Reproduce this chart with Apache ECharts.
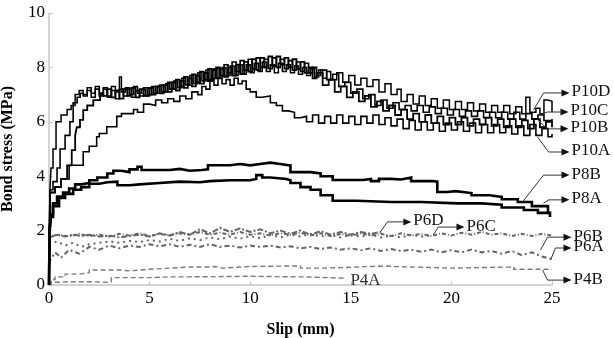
<!DOCTYPE html>
<html>
<head>
<meta charset="utf-8">
<script src="https://cdn.jsdelivr.net/npm/echarts@6/dist/echarts.min.js"></script>
<style>
html,body{margin:0;padding:0;background:#fff;}
#chart{width:614px;height:338px;}
</style>
</head>
<body>
<div id="chart"></div>
<script>
// ---- Data (slip mm, bond stress MPa) ----
const xTicks = [0, 5, 10, 15, 20, 25];
const yTicks = [0, 2, 4, 6, 8, 10];

const P10D = [[0,0],[0.04,3.4],[0.1,4.3],[0.2,5.0],[0.35,6.0],[0.6,6.25],[0.9,6.45],[1.1,6.6],[1.3,7.0],[1.5,7.15],
[1.7,7.0],[1.9,7.25],[2.1,7.05],[2.3,7.3],[2.5,7.0],[2.7,7.2],[2.9,6.95],[3.1,7.3],[3.3,7.1],[3.5,7.65],[3.6,7.1],[3.8,7.25],[4.0,7.0],[4.2,7.3],[4.4,7.05],[4.6,7.2],[4.8,6.95],[5.0,7.25],[5.2,7.05],[5.4,7.3],[5.6,7.1],[5.8,7.4],[6.0,7.2],[6.2,7.5],[6.4,7.25],[6.6,7.6],[6.8,7.35],[7.0,7.7],[7.2,7.4],[7.4,7.8],[7.6,7.5],[7.8,7.9],[8.0,7.55],[8.2,7.95],[8.4,7.6],[8.6,8.0],[8.8,7.7],[9.0,8.05],[9.2,7.7],[9.4,8.1],[9.6,7.75],[9.8,8.1],[10,7.8],[10.2,8.15],[10.4,7.85],[10.6,8.2],[10.8,7.85],[11,8.1],[11.2,7.8],[11.4,8.15],[11.6,7.85],[11.8,8.1],[12,7.8],[12.2,8.05],[12.4,7.75],[12.6,8.0],[12.8,7.7],[13,7.95],[13.2,7.65],[13.4,7.9],[13.6,7.6],[13.8,7.85],[14,7.55],[14.3,7.8],[14.6,7.45],[14.9,7.7],[15.2,7.35],[15.5,7.6],[15.8,7.3],[16.1,7.55],[16.4,7.1],[16.7,7.4],[17.0,7.0],[17.3,7.2],[17.5,6.75],[17.8,7.0],[18.1,6.65],[18.4,6.95],[18.7,6.6],[19.0,6.85],[19.3,6.5],[19.6,6.8],[19.9,6.45],[20.2,6.75],[20.5,6.45],[20.8,6.7],[21.1,6.4],[21.4,6.65],[21.7,6.35],[22.0,6.6],[22.3,6.35],[22.6,6.6],[22.9,6.3],[23.2,6.55],[23.5,6.3],[23.7,6.9],[23.9,6.35],[24.2,6.5],[24.4,6.3],[24.6,6.8],[24.8,6.75],[25,6.35]];

const P10C = [[0,0],[0.05,3.5],[0.2,3.8],[0.4,4.3],[0.55,5.0],[0.8,5.5],[1.04,6.0],[1.2,6.7],[1.4,6.9],[1.55,7.05],[1.7,6.95],[1.9,7.15],[2.1,6.9],[2.3,7.2],[2.5,6.95],[2.7,7.25],[2.9,6.9],[3.1,7.15],[3.3,6.85],[3.5,7.2],[3.7,6.95],[3.9,7.2],[4.1,6.9],[4.3,7.15],[4.5,6.95],[4.7,7.25],[4.9,7.0],[5.1,7.3],[5.3,7.05],[5.5,7.35],[5.7,7.1],[5.9,7.45],[6.1,7.2],[6.3,7.55],[6.5,7.3],[6.7,7.65],[6.9,7.35],[7.1,7.75],[7.3,7.45],[7.5,7.85],[7.7,7.55],[7.9,7.95],[8.1,7.6],[8.3,8.0],[8.5,7.7],[8.7,8.1],[8.9,7.8],[9.1,8.2],[9.3,7.85],[9.5,8.25],[9.7,7.9],[9.9,8.3],[10.1,7.95],[10.3,8.35],[10.5,8.0],[10.7,8.3],[10.9,7.95],[11.1,8.35],[11.3,8.0],[11.5,8.3],[11.7,7.95],[11.9,8.25],[12.1,7.9],[12.3,8.2],[12.5,7.85],[12.7,8.15],[12.9,7.8],[13.1,8.0],[13.3,7.7],[13.5,7.9],[13.8,7.55],[14.1,7.75],[14.4,7.3],[14.7,7.45],[15.0,7.05],[15.3,7.2],[15.6,6.85],[15.9,7.0],[16.2,6.6],[16.5,6.8],[16.8,6.5],[17.1,6.7],[17.4,6.45],[17.7,6.6],[18.0,6.4],[18.3,6.6],[18.6,6.35],[18.9,6.55],[19.2,6.3],[19.5,6.5],[19.8,6.25],[20.1,6.45],[20.4,6.2],[20.7,6.4],[21.0,6.2],[21.3,6.4],[21.6,6.15],[21.9,6.35],[22.2,6.15],[22.5,6.35],[22.8,6.1],[23.1,6.35],[23.4,6.1],[23.7,6.3],[24.0,6.1],[24.3,6.25],[24.6,6.05],[25,6.1]];

const P10B = [[0,0],[0.05,3.4],[0.3,3.6],[0.6,3.9],[0.9,4.4],[1.13,4.96],[1.3,5.5],[1.38,5.8],[1.54,6.07],[1.7,6.43],[1.9,6.6],[2.2,6.8],[2.54,7.05],[2.7,6.95],[2.9,7.2],[3.1,6.9],[3.3,7.15],[3.5,6.85],[3.7,7.2],[3.9,6.95],[4.1,7.25],[4.3,6.9],[4.5,7.2],[4.7,6.95],[4.9,7.25],[5.1,7.0],[5.3,7.3],[5.5,7.05],[5.7,7.35],[5.9,7.1],[6.1,7.45],[6.3,7.15],[6.5,7.5],[6.7,7.25],[6.9,7.6],[7.1,7.3],[7.3,7.7],[7.5,7.4],[7.7,7.8],[7.9,7.5],[8.1,7.9],[8.3,7.6],[8.5,7.95],[8.7,7.65],[8.9,8.0],[9.1,7.7],[9.3,8.1],[9.5,7.75],[9.7,8.2],[9.9,7.85],[10.1,8.3],[10.3,7.9],[10.5,8.35],[10.7,8.0],[10.9,8.4],[11.1,8.05],[11.3,8.4],[11.5,8.1],[11.7,8.35],[11.9,8.0],[12.1,8.3],[12.3,7.95],[12.5,8.2],[12.7,7.8],[12.9,8.0],[13.1,7.6],[13.3,7.8],[13.6,7.35],[13.9,7.55],[14.2,7.1],[14.5,7.3],[14.8,6.9],[15.1,7.1],[15.4,6.75],[15.7,6.95],[16.0,6.55],[16.3,6.75],[16.6,6.4],[16.9,6.6],[17.2,6.25],[17.5,6.45],[17.8,6.1],[18.1,6.3],[18.4,6.0],[18.7,6.25],[19.0,5.95],[19.3,6.2],[19.6,5.9],[19.9,6.15],[20.2,5.9],[20.5,6.15],[20.8,5.85],[21.1,6.1],[21.4,5.9],[21.7,6.15],[22.0,5.85],[22.3,6.1],[22.6,5.8],[22.9,6.1],[23.2,5.8],[23.5,6.05],[23.8,5.75],[24.1,6.1],[24.4,5.8],[24.7,6.0],[25,5.8]];

const P10A = [[0,0],[0.05,3.4],[0.3,3.6],[0.6,3.9],[1.0,4.4],[1.7,4.9],[2.0,5.1],[2.37,5.45],[2.5,5.57],[2.87,5.82],[3.37,6.2],[3.6,6.3],[4.2,6.45],[4.4,6.35],[4.7,6.65],[5.0,6.6],[5.3,6.8],[5.6,6.7],[5.9,6.85],[6.2,6.75],[6.5,6.95],[6.8,6.85],[7.1,7.1],[7.4,7.0],[7.6,7.3],[7.8,7.2],[8.0,7.55],[8.2,7.35],[8.4,7.6],[8.6,7.4],[8.8,7.55],[9.0,7.35],[9.2,7.6],[9.4,7.4],[9.6,7.5],[9.8,7.2],[10.0,7.1],[10.3,6.9],[10.6,6.95],[11.0,6.7],[11.3,6.6],[11.6,6.4],[11.9,6.35],[12.2,6.15],[12.5,6.2],[12.8,6.0],[13.1,6.25],[13.4,5.95],[13.7,6.2],[14.0,5.95],[14.3,6.25],[14.6,5.95],[14.9,6.2],[15.2,5.9],[15.5,6.2],[15.8,5.95],[16.1,6.25],[16.4,5.9],[16.7,6.15],[17.0,5.85],[17.3,6.1],[17.6,5.75],[17.9,6.05],[18.2,5.7],[18.5,6.0],[18.8,5.7],[19.1,5.95],[19.4,5.65],[19.7,5.95],[20.0,5.7],[20.3,6.0],[20.6,5.65],[20.9,5.95],[21.2,5.6],[21.5,5.9],[21.8,5.6],[22.1,5.9],[22.4,5.6],[22.7,5.85],[23.0,5.55],[23.3,5.85],[23.6,5.5],[23.9,5.9],[24.2,5.5],[24.5,5.75],[24.8,5.45],[25,5.55]];

const P8B = [[0,0],[0.03,2.0],[0.1,2.6],[0.2,3.0],[0.4,3.25],[0.7,3.4],[1.0,3.55],[1.3,3.7],[1.6,3.75],[2.0,3.85],[2.4,3.95],[2.9,4.1],[3.2,4.2],[3.6,4.15],[4.0,4.25],[4.4,4.35],[4.6,4.23],[5.5,4.23],[6.0,4.27],[6.5,4.2],[7.0,4.23],[7.6,4.25],[7.9,4.4],[8.5,4.4],[9.0,4.45],[9.5,4.4],[10.0,4.45],[10.5,4.5],[11.0,4.45],[11.5,4.4],[11.9,4.4],[12.0,4.15],[12.5,4.15],[13.0,4.1],[13.5,4.0],[14.1,3.86],[15.0,3.86],[15.6,3.9],[16.0,3.82],[16.4,3.9],[17.0,3.88],[17.5,3.95],[18.0,3.82],[19.1,3.8],[19.3,3.42],[19.8,3.45],[20.2,3.38],[21.0,3.3],[21.9,3.24],[22.5,3.15],[23.3,3.05],[24.0,2.9],[24.8,2.65]];

const P8A = [[0,0],[0.03,2.0],[0.1,2.5],[0.2,2.9],[0.5,3.2],[0.8,3.35],[1.2,3.5],[1.6,3.6],[2.0,3.72],[2.5,3.78],[2.9,3.8],[3.4,3.67],[4.0,3.7],[4.5,3.75],[5.5,3.8],[6.5,3.78],[7.5,3.82],[8.0,3.85],[9.0,3.85],[10.0,3.9],[10.3,4.04],[10.6,3.95],[11.0,3.9],[11.8,3.85],[12.0,3.75],[12.5,3.6],[13.0,3.5],[13.5,3.3],[14.1,3.1],[15.3,3.05],[17.0,3.05],[18.5,3.0],[20.3,3.0],[21.5,2.95],[22.5,2.85],[23.6,2.76],[24.3,2.65],[24.9,2.5]];

const P6D = [[0,0.9],[0.05,1.75],[0.4,1.85],[0.8,1.78],[1.2,1.85],[1.6,1.8],[2.0,1.85],[2.5,1.78],[3.0,1.82],[3.5,1.75],[4.0,1.8],[4.5,1.85],[5.0,1.78],[5.5,1.9],[6.0,1.82],[6.5,1.95],[7.0,1.85],[7.5,2.05],[8.0,1.9],[8.5,2.1],[9.0,1.95],[9.5,2.08],[10.0,1.95],[10.5,2.05],[11.0,1.9],[11.5,2.0],[12.0,1.88],[12.5,2.0],[13.0,1.85],[13.5,1.98],[14.0,1.85],[14.5,1.95],[15.0,1.85],[15.5,1.95],[16.0,1.88],[16.5,1.95]];

const P6C = [[0,0.8],[0.05,1.5],[0.4,1.6],[0.8,1.45],[1.2,1.55],[1.6,1.4],[2.0,1.5],[2.5,1.55],[3.0,1.6],[3.5,1.55],[4.0,1.62],[4.5,1.58],[5.0,1.65],[5.5,1.6],[6.0,1.7],[6.5,1.62],[7.0,1.72],[7.5,1.65],[8.0,1.75],[8.5,1.68],[9.0,1.78],[9.5,1.7],[10.0,1.8],[10.5,1.72],[11.0,1.85],[11.5,1.75],[12.0,1.85],[12.5,1.78],[13.0,1.88],[13.5,1.78],[14.0,1.85],[14.5,1.75],[15.0,1.85],[15.5,1.78],[16.0,1.85],[16.5,1.75],[17.0,1.82],[17.5,1.75],[18.0,1.85],[18.5,1.78],[19.1,1.84]];

const P6B = [[0,1.0],[0.05,1.8],[0.5,1.85],[1.0,1.78],[1.5,1.88],[2.0,1.8],[2.5,1.85],[3.0,1.78],[3.5,1.88],[4.0,1.82],[4.5,1.9],[5.0,1.8],[5.5,1.88],[6.0,1.82],[6.5,1.9],[7.0,1.85],[7.5,1.95],[8.0,1.85],[8.5,1.92],[9.0,1.85],[9.5,1.95],[10.0,1.85],[10.5,1.9],[11.0,1.82],[11.5,1.9],[12.0,1.85],[12.5,1.92],[13.0,1.82],[13.5,1.9],[14.0,1.8],[14.5,1.88],[15.0,1.8],[15.5,1.9],[16.0,1.82],[16.5,1.88],[17.0,1.8],[17.5,1.9],[18.0,1.82],[18.5,1.88],[19.0,1.8],[19.5,1.9],[20.0,1.82],[20.5,1.92],[21.0,1.85],[21.5,1.95],[22.0,1.85],[22.5,1.9],[23.0,1.8],[23.5,1.88],[24.0,1.8],[24.5,1.88],[25.0,1.82]];

const P6A = [[0,0.6],[0.05,0.9],[0.3,1.2],[0.6,1.0],[1.0,1.3],[1.5,1.15],[2.0,1.4],[2.5,1.3],[3.0,1.45],[3.5,1.35],[4.0,1.45],[4.5,1.4],[5.0,1.5],[5.5,1.42],[6.0,1.5],[6.5,1.4],[7.0,1.48],[7.5,1.4],[8.0,1.5],[8.5,1.4],[9.0,1.45],[9.5,1.38],[10.0,1.45],[10.5,1.4],[11.0,1.45],[11.5,1.38],[12.0,1.42],[12.5,1.35],[13.0,1.4],[13.5,1.32],[14.0,1.38],[14.5,1.3],[15.0,1.35],[15.5,1.28],[16.0,1.35],[16.5,1.25],[17.0,1.32],[17.5,1.25],[18.0,1.3],[18.5,1.22],[19.0,1.3],[19.5,1.2],[20.0,1.28],[20.5,1.2],[21.0,1.3],[21.5,1.2],[22.0,1.25],[22.5,1.15],[23.0,1.25],[23.5,1.1],[24.0,1.2],[24.5,1.05],[25.0,0.95]];

const P4B = [[0,0.05],[0.1,0.2],[0.3,0.3],[0.8,0.4],[1.5,0.45],[2.0,0.55],[3.0,0.55],[3.5,0.52],[4.0,0.58],[5.0,0.62],[6.0,0.66],[7.0,0.66],[8.0,0.68],[8.3,0.62],[8.6,0.68],[10.0,0.7],[12.1,0.7],[12.5,0.62],[13.5,0.64],[14.6,0.7],[16.7,0.68],[17.2,0.62],[20.0,0.66],[22.9,0.67],[23.1,0.58],[25,0.58]];

const P4A = [[0,0.02],[0.1,0.1],[0.5,0.12],[1.0,0.12],[2.0,0.1],[2.9,0.12],[3.1,0.27],[5.0,0.3],[6.0,0.3],[7.0,0.32],[10.0,0.3],[12.3,0.3],[12.6,0.25],[14.7,0.25]];

// label annotations: [text, curve point, elbow, arrow end] in data units; text-only when no points
const labelNames = ['P10D','P10C','P10B','P10A','P8B','P8A','P6D','P6C','P6B','P6A','P4B','P4A'];
const labelFrom  = [[24.08,6.43],[24.33,6.25],[24.28,6.07],[24.28,5.44],[23.53,3.05],[24.58,3.01],[16.47,1.95],[19.1,1.84],[24.43,1.29],[24.93,0.92],[24.53,0.55],null];
const labelElbow = [[24.58,7.06],[24.78,6.36],[24.78,5.74],[24.83,4.89],[24.58,4.04],[24.83,3.13],[16.82,2.32],[19.35,2.13],[24.78,1.76],[25.17,1.36],[24.78,0.18],null];
const labelTo    = [[25.82,7.06],[25.77,6.36],[25.77,5.74],[25.82,4.89],[25.82,4.04],[25.82,3.13],[17.96,2.32],[20.6,2.13],[25.92,1.76],[25.92,1.36],[25.92,0.18],[14.98,0.18]];

const serif = 'Liberation Serif, Times New Roman, serif';
const chart = echarts.init(document.getElementById('chart'), null, {renderer:'canvas'});

function lineSeries(name, data, color, width, type, step) {
  return {name, type:'line', data, showSymbol:false, symbol:'none', animation:false, silent:true,
    step: step === undefined ? 'end' : step,
    lineStyle:{color, width, type: type || 'solid', cap:'butt', join:'miter'}, z: 2};
}

chart.setOption({
  animation:false,
  backgroundColor:'#fff',
  grid:{left:49, right:62, top:13, bottom:53, containLabel:false, outerBoundsMode:'none'},
  xAxis:{type:'value', min:0, max:25, interval:5,
    axisLine:{show:true, lineStyle:{color:'#c6c6c6', width:1.5}},
    axisTick:{show:true, inside:true, length:4, lineStyle:{color:'#c6c6c6'}},
    splitLine:{show:false},
    axisLabel:{color:'#000', fontFamily:serif, fontSize:17, margin:5},
    name:'Slip (mm)', nameLocation:'middle', nameGap:37,
    nameTextStyle:{color:'#000', fontFamily:serif, fontWeight:'bold', fontSize:16}},
  yAxis:{type:'value', min:0, max:10, interval:2,
    axisLine:{show:true, lineStyle:{color:'#c6c6c6', width:1.5}},
    axisTick:{show:true, inside:true, length:4, lineStyle:{color:'#c6c6c6'}},
    splitLine:{show:false},
    axisLabel:{color:'#000', fontFamily:serif, fontSize:17, margin:4},
    name:'Bond stress (MPa)', nameLocation:'middle', nameGap:33, nameRotate:90,
    nameTextStyle:{color:'#000', fontFamily:serif, fontWeight:'bold', fontSize:16}},
  series:[
    lineSeries('P4A', P4A, '#7a7a7a', 1.4, [5,3]),
    lineSeries('P4B', P4B, '#7a7a7a', 1.4, [5,3]),
    lineSeries('P6A', P6A, '#666', 2, [2,3,5,3], false),
    lineSeries('P6B', P6B, '#666', 2, [4,2,1,2], false),
    lineSeries('P6C', P6C, '#666', 2, [2,4], false),
    lineSeries('P6D', P6D, '#666', 2, [6,2,2,2], false),
    lineSeries('P8A', P8A, '#000', 2.6),
    lineSeries('P8B', P8B, '#000', 2.6),
    lineSeries('P10A', P10A, '#000', 1.6),
    lineSeries('P10B', P10B, '#000', 1.8),
    lineSeries('P10C', P10C, '#000', 1.6),
    lineSeries('P10D', P10D, '#000', 1.5)
  ]
});

// annotations placed through the axes' own scales
const g = [];
const px = p => chart.convertToPixel({gridIndex:0}, p);
for (let i = 0; i < labelNames.length; i++) {
  const to = px(labelTo[i]);
  if (labelFrom[i]) {
    const a = px(labelFrom[i]), b = px(labelElbow[i]);
    g.push({type:'polyline', shape:{points:[a, b, [to[0]-5, to[1]]]}, style:{stroke:'#333', lineWidth:1, fill:null}, z:10});
    g.push({type:'polygon', shape:{points:[[to[0]+1, to[1]], [to[0]-7, to[1]-3.5], [to[0]-7, to[1]+3.5]]}, style:{fill:'#111'}, z:10});
    g.push({type:'text', x:to[0]+3, y:to[1]-1, style:{text:labelNames[i], fill:'#111', font:'17px ' + serif, verticalAlign:'middle', align:'left'}, z:10});
  } else {
    g.push({type:'text', x:to[0], y:to[1], style:{text:labelNames[i], fill:'#333', font:'17px ' + serif, verticalAlign:'middle', align:'left'}, z:10});
  }
}
chart.setOption({graphic:g});
</script>
</body>
</html>
